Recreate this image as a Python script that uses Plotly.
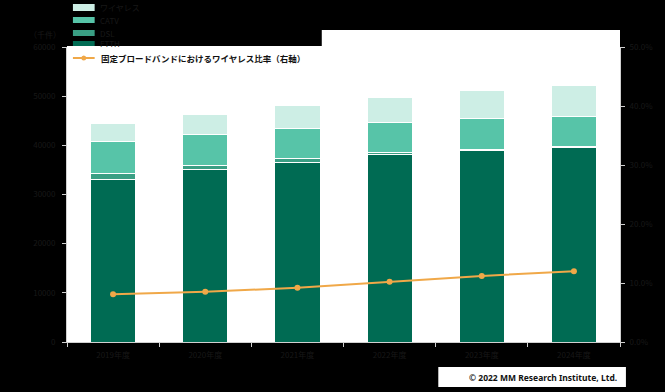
import plotly.graph_objects as go

categories = ["2019年度", "2020年度", "2021年度", "2022年度", "2023年度", "2024年度"]
ftth = [33150, 34990, 36470, 38040, 38850, 39660]
dsl = [1220, 920, 900, 600, 400, 200]
catv = [6510, 6300, 6100, 6100, 6300, 6100]
wireless = [3660, 4070, 4580, 5090, 5700, 6300]
wireless_ratio = [0.081, 0.085, 0.092, 0.102, 0.112, 0.120]

series_names = ["FTTH", "DSL", "CATV", "ワイヤレス"]
series_values = [ftth, dsl, catv, wireless]
series_colors = ["#006b53", "#3a9f84", "#57c4a8", "#cdeee5"]
line_name = "固定ブロードバンドにおけるワイヤレス比率（右軸）"
line_color = "#f0a848"

W, H = 665, 392
L, R, T, B = 67, 627, 47, 342
FONT = "Noto Sans CJK JP, Noto Sans, sans-serif"
DARK = "#181818"


def px(x):
    return (x - L) / (R - L)


def py(y):
    return (B - y) / (B - T)


fig = go.Figure()
for name, vals, col in zip(series_names, series_values, series_colors):
    fig.add_trace(go.Bar(x=categories, y=vals, name=name, marker=dict(color=col, line=dict(color="white", width=1)),
                         showlegend=False))

fig.add_trace(go.Scatter(x=categories, y=wireless_ratio, name=line_name, yaxis="y2", mode="lines+markers",
                         line=dict(color=line_color, width=2), marker=dict(size=6, color=line_color),
                         showlegend=False))

shapes = []
shapes.append(dict(type="rect", xref="paper", yref="paper", x0=px(L), x1=px(R), y0=py(B), y1=py(30),
                   fillcolor="white", line=dict(width=0), layer="below"))
shapes.append(dict(type="rect", xref="paper", yref="paper", x0=px(L), x1=px(325), y0=py(46), y1=py(0),
                   fillcolor="black", line=dict(width=0), layer="below"))

annotations = []
legend_order = list(reversed(list(zip(series_names, series_colors))))
sw_y = [(4, 11), (17, 23), (30, 36), (41, 46)]
for (name, col), (y0, y1) in zip(legend_order, sw_y):
    shapes.append(dict(type="rect", xref="paper", yref="paper", x0=px(73), x1=px(95), y0=py(y1), y1=py(y0),
                       fillcolor=col, line=dict(width=0)))
    annotations.append(dict(x=px(98), y=py((y0 + y1) / 2), xref="paper", yref="paper", text=name,
                            showarrow=False, xanchor="left", yanchor="middle",
                            font=dict(size=8, color=DARK, family=FONT)))

shapes.append(dict(type="line", xref="paper", yref="paper", x0=px(73), x1=px(95), y0=py(58), y1=py(58),
                   line=dict(color=line_color, width=2)))
shapes.append(dict(type="circle", xref="paper", yref="paper", x0=px(81.5), x1=px(86.5), y0=py(60.5), y1=py(55.5),
                   fillcolor=line_color, line=dict(width=0)))
annotations.append(dict(x=px(99), y=py(58), xref="paper", yref="paper", text="<b>" + line_name + "</b>",
                        showarrow=False, xanchor="left", yanchor="middle",
                        font=dict(size=8.5, color="#111111", family=FONT)))

annotations.append(dict(x=px(45), y=py(34), xref="paper", yref="paper", text="（千件）", showarrow=False,
                        xanchor="center", yanchor="middle", font=dict(size=8, color=DARK, family=FONT)))

shapes.append(dict(type="rect", xref="paper", yref="paper", x0=px(443), x1=px(633), y0=py(387), y1=py(367),
                   fillcolor="white", line=dict(width=0)))
annotations.append(dict(x=px(626), y=py(377), xref="paper", yref="paper",
                        text="<b>© 2022 MM Research Institute, Ltd.</b>", showarrow=False,
                        xanchor="right", yanchor="middle", font=dict(size=8.5, color="#111111", family="Noto Sans")))

fig.update_layout(
    width=W, height=H,
    margin=dict(l=L, r=W - R, t=T, b=H - B, pad=0),
    paper_bgcolor="black", plot_bgcolor="white",
    barmode="stack", bargap=0.51,
    font=dict(family=FONT, size=8, color=DARK),
    shapes=shapes, annotations=annotations,
    xaxis=dict(showline=True, linecolor="#d0d0d0", ticks="outside", tickson="boundaries", ticklen=4,
               tickcolor="#d0d0d0", tickfont=dict(size=8, color=DARK), showgrid=False, ticklabelstandoff=5),
    yaxis=dict(range=[0, 60000], dtick=10000, tickformat="d", showline=True, linecolor="#d0d0d0",
               ticks="outside", ticklen=4, tickcolor="#d0d0d0", showgrid=False,
               tickfont=dict(size=8, color=DARK), ticklabelstandoff=5),
    yaxis2=dict(range=[0, 0.5], dtick=0.1, tickformat=".1%", overlaying="y", side="right", showline=True,
                linecolor="#d0d0d0", ticks="outside", ticklen=4, tickcolor="#d0d0d0", showgrid=False,
                tickfont=dict(size=8, color=DARK), zeroline=False, ticklabelstandoff=3),
)

fig.write_html("out.html", config={"displayModeBar": False},
               post_script="document.body.style.margin='0';document.body.style.overflow='hidden';")
